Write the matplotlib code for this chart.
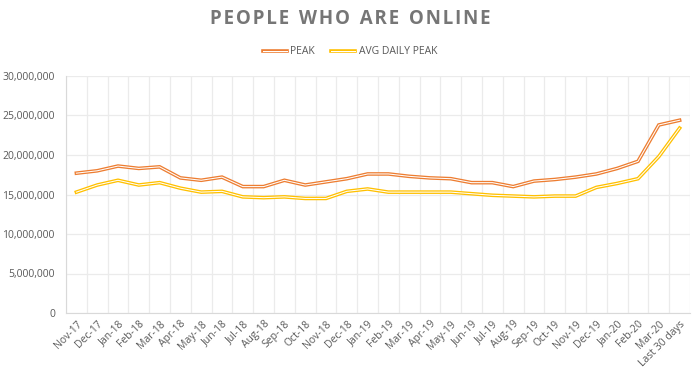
import matplotlib
matplotlib.use("Agg")
import matplotlib.pyplot as plt
from matplotlib.ticker import FuncFormatter, MultipleLocator
from matplotlib.lines import Line2D
from matplotlib.legend_handler import HandlerBase

categories = ["Nov-17", "Dec-17", "Jan-18", "Feb-18", "Mar-18", "Apr-18", "May-18", "Jun-18",
              "Jul-18", "Aug-18", "Sep-18", "Oct-18", "Nov-18", "Dec-18", "Jan-19", "Feb-19",
              "Mar-19", "Apr-19", "May-19", "Jun-19", "Jul-19", "Aug-19", "Sep-19", "Oct-19",
              "Nov-19", "Dec-19", "Jan-20", "Feb-20", "Mar-20", "Last 30 days"]

peak = [17.7, 18.0, 18.6, 18.3, 18.5, 17.1, 16.8, 17.2, 16.0, 16.0, 16.8, 16.2, 16.6, 17.0,
        17.6, 17.6, 17.3, 17.1, 17.0, 16.5, 16.5, 16.0, 16.7, 16.9, 17.2, 17.6, 18.3, 19.2,
        23.8, 24.4]
avg_daily_peak = [15.3, 16.2, 16.8, 16.2, 16.5, 15.8, 15.3, 15.4, 14.7, 14.6, 14.7, 14.5, 14.5,
                  15.4, 15.7, 15.3, 15.3, 15.3, 15.3, 15.1, 14.9, 14.8, 14.7, 14.8, 14.8, 15.9,
                  16.4, 17.0, 19.8, 23.4]
peak = [v * 1e6 for v in peak]
avg_daily_peak = [v * 1e6 for v in avg_daily_peak]

ORANGE = "#ED7D31"
YELLOW = "#FFC000"
TEXT = "#595959"
GRID = "#EBEBEB"
FONT = "Open Sans"

fig = plt.figure(figsize=(7.0, 3.79), dpi=100)
ax = fig.add_axes([66 / 700, 1 - 313 / 379, 624 / 700, 237 / 379])

x = list(range(len(categories)))

def double_line(xs, ys, color):
    ax.plot(xs, ys, color=color, lw=2.6, solid_joinstyle="miter", zorder=3)
    ax.plot(xs, ys, color="white", lw=0.75, solid_joinstyle="miter", zorder=4)

double_line(x, peak, ORANGE)
double_line(x, avg_daily_peak, YELLOW)

ax.set_xlim(-0.5, len(categories) - 0.5)
ax.set_ylim(0, 30e6)
ax.yaxis.set_major_locator(MultipleLocator(5e6))
ax.yaxis.set_major_formatter(FuncFormatter(lambda v, p: f"{int(v):,}"))
ax.set_xticks(x)
ax.set_xticklabels(categories, rotation=45, ha="right", rotation_mode="anchor",
                   fontsize=7.5, color=TEXT, family=FONT)
for lab in ax.get_yticklabels():
    lab.set_fontsize(7.5)
    lab.set_color(TEXT)
    lab.set_family(FONT)
ax.set_xticks([i + 0.5 for i in range(-1, len(categories))], minor=True)
ax.tick_params(axis="both", which="both", length=0)
ax.tick_params(axis="x", pad=4)
ax.tick_params(axis="y", pad=8)
ax.grid(True, axis="y", which="major", color=GRID, lw=0.9)
ax.grid(True, axis="x", which="minor", color=GRID, lw=0.9)
for s in ["top", "right"]:
    ax.spines[s].set_visible(False)
ax.spines["left"].set_color("#D9D9D9")
ax.spines["bottom"].set_color("#D9D9D9")
ax.set_axisbelow(True)

title = "PEOPLE WHO ARE ONLINE"
spaced = "\u200a".join(title).replace("\u200a \u200a", "  ")
fig.text(0.5, 1 - 19 / 379, spaced, ha="center", va="center", fontsize=13.5,
         fontweight="bold", color="#767676", family=FONT)


class DoubleHandler(HandlerBase):
    def create_artists(self, legend, orig_handle, xdescent, ydescent, width, height, fontsize, trans):
        y = height / 2 - ydescent
        l1 = Line2D([-xdescent, width - xdescent], [y, y], color=orig_handle.get_color(), lw=2.6, transform=trans)
        l2 = Line2D([-xdescent, width - xdescent], [y, y], color="white", lw=0.75, transform=trans)
        return [l1, l2]

h1 = Line2D([], [], color=ORANGE)
h2 = Line2D([], [], color=YELLOW)
leg = fig.legend([h1, h2], ["PEAK", "AVG DAILY PEAK"], loc="center", bbox_to_anchor=(0.5, 1 - 52 / 379),
                 ncol=2, frameon=False, handler_map={Line2D: DoubleHandler()},
                 prop={"family": FONT, "size": 7.5}, handlelength=2.3, handletextpad=0.3,
                 columnspacing=1.6)
for t in leg.get_texts():
    t.set_color(TEXT)

fig.savefig("out.png", dpi=100, facecolor="white")
